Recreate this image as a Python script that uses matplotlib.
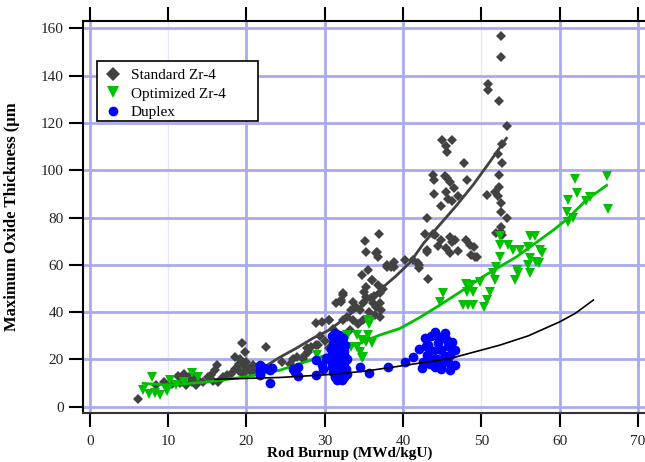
import matplotlib.pyplot as plt
from matplotlib.lines import Line2D
from matplotlib.patches import Rectangle

# Standard Zr-4 rods: burnup (MWd/kgU), max oxide thickness (um)
std_x = [6.1, 8.5, 9.5, 10.5, 11.2, 11.5, 12.0, 12.3, 12.7, 13.0, 13.4, 13.5, 14.0, 14.5,
         15.1, 15.5, 15.7, 16.2, 16.0, 16.4, 17.0, 17.5, 18.0, 18.5, 18.6, 19.0, 19.0, 19.2,
         19.4, 19.5, 19.8, 19.8, 20.0, 20.2, 20.5, 20.8, 21.0, 21.3, 22.5,
         24.5, 25.5, 26.0, 26.5, 27.2, 27.5, 27.7, 27.9, 28.3, 28.9, 29.2, 28.9, 29.6, 29.4,
         30.0, 30.6, 30.5, 31.0,
         31.5, 32.1, 32.3, 33.4, 32.8, 32.3, 33.6, 33.2, 34.3, 34.9, 34.5, 34.9, 35.3, 35.9,
         36.1, 36.6, 37.0, 37.2, 37.0, 36.4, 35.7, 35.3, 36.0, 35.5, 34.7, 36.8, 37.5, 37.9,
         38.9, 37.0, 35.2, 36.9, 35.3, 36.7, 36.6, 36.8, 37.9, 38.5, 36.0, 32.3, 33.6, 32.1,
         30.6, 35.0, 36.3, 34.0,
         38.9, 40.2, 41.3, 41.9, 42.1, 43.2, 42.1, 43.0, 43.0, 42.8, 43.8, 44.1, 44.9, 46.0,
         46.6, 48.1, 49.0, 48.7, 49.2, 44.4, 45.5, 46.3, 47.0, 46.0, 48.5, 49.4,
         43.0, 44.8, 44.0, 45.8, 45.5, 46.5, 47.0, 46.2, 43.8, 44.0, 45.6, 45.3, 46.0, 48.2,
         47.8, 45.0, 46.3, 45.5, 45.6, 50.7, 51.8, 52.3, 52.3, 52.6, 52.1, 52.5, 52.7,
         52.5, 52.1, 53.3, 52.5, 52.5, 51.9, 52.6, 53.3, 52.2, 50.9, 50.9, 52.5, 52.5]
std_y = [3.3, 9.0, 10.5, 9.5, 13.1, 10.0, 13.8, 9.0, 12.5, 10.5, 12.5, 9.0, 11.0, 10.5,
         12.7, 13.5, 11.0, 17.6, 15.5, 10.6, 12.5, 13.5, 14.0, 16.0, 21.0, 15.0, 18.0, 20.0,
         27.0, 14.0, 23.3, 17.0, 19.0, 16.0, 15.0, 17.5, 14.5, 16.0, 25.3,
         19.0, 18.0, 20.0, 21.0, 20.0, 21.9, 24.7, 23.3, 25.4, 26.1, 26.0, 35.5, 36.0, 30.0,
         28.0, 36.7, 25.0, 33.0,
         43.7, 44.4, 47.2, 40.9, 38.0, 36.6, 36.6, 32.4, 35.2, 36.6, 40.9, 43.7, 46.5, 45.8,
         43.7, 42.3, 43.7, 40.9, 38.0, 38.7, 40.2, 50.7, 53.6, 57.8, 55.7, 51.4, 50.0, 59.2,
         59.2, 48.0, 70.2, 72.9, 65.3, 65.3, 64.9, 63.4, 59.9, 59.2, 53.6, 47.9, 44.4, 45.0,
         36.7, 48.5, 47.0, 42.0,
         61.0, 62.0, 62.0, 60.6, 58.5, 53.9, 59.9, 65.5, 66.2, 73.0, 73.0, 72.6, 70.5, 71.9,
         70.5, 70.5, 67.7, 64.1, 63.4, 68.0, 67.0, 69.5, 66.0, 65.0, 68.5, 63.4,
         80.0, 85.0, 89.8, 88.0, 91.0, 92.5, 89.0, 87.0, 98.0, 95.9, 96.6, 97.5, 95.0, 95.9,
         102.9, 112.8, 112.8, 110.4, 107.8, 89.5, 90.6, 93.0, 98.0, 103.0, 107.0, 86.3, 111.0,
         82.3, 89.0, 80.0, 76.0, 74.0, 73.3, 72.6, 118.8, 129.3, 136.4, 133.9, 148.0, 156.9]

# Optimized Zr-4 rods
opt_x = [6.8, 7.5, 8.0, 8.3, 8.9, 9.8, 10.2, 11.0, 13.0, 13.8, 12.0, 29.0,
         35.5, 35.7, 34.1, 34.7, 32.8, 33.4, 34.5, 34.9, 36.0, 35.5, 32.6, 34.1, 35.8,
         35.3, 34.7,
         44.7, 45.1, 47.7, 48.3, 48.9, 48.1, 48.7, 48.2, 48.9, 49.8, 51.1, 50.7, 50.4,
         51.9, 51.5, 51.7, 52.4, 52.4, 53.4, 54.1, 52.4, 54.9, 56.0, 56.2, 56.8, 57.5, 57.7,
         56.2, 57.0, 57.3, 56.0, 56.2, 54.5, 54.7, 54.3,
         60.9, 61.1, 61.7, 61.1, 62.2, 61.9, 63.4, 63.9, 66.0, 66.2]
opt_y = [7.3, 5.5, 12.7, 6.0, 5.0, 6.6, 11.3, 9.2, 14.1, 12.7, 10.5, 21.9,
         36.6, 35.2, 30.3, 28.2, 30.3, 25.4, 23.3, 21.1, 26.8, 30.3, 28.2, 25.4, 36.0,
         27.5, 20.5,
         44.4, 47.9, 43.0, 43.0, 43.0, 52.1, 51.5, 48.6, 48.6, 52.9, 48.6, 45.1, 42.3,
         59.2, 56.4, 53.6, 72.2, 68.4, 68.4, 66.2, 63.4, 66.2, 67.7, 72.2, 72.2, 66.2, 64.9,
         62.7, 61.3, 60.6, 59.9, 56.4, 57.8, 56.4, 53.6,
         82.5, 78.2, 79.7, 87.4, 90.2, 96.2, 87.0, 88.5, 97.6, 83.4]

# Duplex rods
dup_x = [21.7, 21.7, 21.7, 22.2, 23.0, 23.2, 23.0, 26.0, 26.6, 26.6, 26.2, 28.9, 29.6,
         28.9, 29.8, 30.2,
         30.9, 31.3, 31.8, 32.3, 31.0, 31.5, 32.0, 32.6, 30.8, 31.3, 31.9, 32.5, 30.9, 31.4,
         32.0, 32.6, 30.8, 31.2, 31.8, 32.4, 32.8, 30.9, 31.5, 32.1, 32.7, 31.0, 31.6, 32.2,
         32.8, 31.3, 31.9, 32.5, 31.6, 32.2,
         34.5, 35.7, 38.1, 40.2,
         41.3, 42.0, 42.4, 42.8, 42.5, 43.0, 43.2, 43.5, 43.6, 43.8, 44.1, 44.1, 44.3, 44.5,
         44.8, 45.0, 45.3, 45.3, 45.5, 45.8, 46.0, 46.0, 46.2, 46.6, 46.6, 44.6, 43.3, 45.7,
         42.9, 44.9]
dup_y = [17.6, 15.5, 13.4, 16.5, 15.5, 16.5, 9.9, 15.8, 16.9, 13.0, 14.5, 19.7, 17.6,
         13.4, 16.0, 20.5,
         30.0, 31.0, 30.5, 29.0, 27.0, 28.0, 27.0, 26.0, 24.5, 25.0, 24.0, 23.5, 22.0, 21.5,
         22.0, 21.0, 19.5, 19.0, 19.5, 18.5, 20.0, 17.0, 16.5, 17.0, 16.0, 14.5, 14.0, 15.0,
         14.0, 12.5, 12.0, 12.5, 11.5, 11.5,
         16.9, 14.4, 16.9, 19.0,
         21.0, 24.5, 16.2, 28.9, 19.0, 22.0, 26.0, 18.0, 30.0, 23.5, 31.7, 16.9, 20.0, 27.0,
         24.0, 18.0, 31.0, 21.5, 28.5, 25.5, 15.5, 22.0, 27.5, 24.0, 17.6, 29.5, 20.5, 19.0,
         25.5, 15.8]

# fitted trend curves
std_fit_x = [22.6, 24.3, 26.5, 28.5, 30.6, 32.8, 35.0, 37.0, 39.0, 40.9, 42.6, 44.7,
             46.8, 49.0, 51.1, 53.2]
std_fit_y = [17.5, 21.0, 25.0, 29.0, 32.5, 38.0, 43.5, 49.3, 55.0, 61.0, 69.0, 77.0,
             85.0, 94.0, 103.6, 113.5]
opt_fit_x = [6.8, 10.0, 15.0, 20.0, 24.3, 28.5, 32.8, 37.0, 39.6, 42.0, 44.7, 47.5,
             50.2, 54.5, 59.2, 61.0, 63.4, 66.0]
opt_fit_y = [9.9, 9.2, 10.5, 12.7, 15.5, 20.0, 24.7, 30.3, 33.1, 37.5, 43.0, 49.0,
             55.0, 63.4, 74.7, 79.5, 87.4, 93.6]
dup_fit_x = [16.0, 24.3, 30.0, 35.0, 39.6, 46.0, 52.4, 56.0, 60.0, 62.0, 64.3]
dup_fit_y = [11.6, 12.4, 13.5, 15.0, 17.2, 20.4, 26.1, 30.0, 35.9, 39.5, 45.1]

plt.rcParams['font.family'] = ['Liberation Serif', 'DejaVu Serif']

fig = plt.figure(figsize=(6.45, 4.62), dpi=100)
ax = fig.add_axes([0.128, 0.1067, 0.872, 0.848])

grid_c = '#aaaaee'
for gx in [0, 20, 30, 40, 60, 70]:
    ax.axvline(gx, color=grid_c, lw=2, zorder=0)
for gx in [10, 50]:
    ax.axvline(gx, color='#e6e6f8', lw=1, zorder=0)
for gy in range(0, 161, 20):
    ax.axhline(gy, color=grid_c, lw=2, zorder=0)

gray = '#424242'
green = '#00c000'
blue = '#0000ff'

ax.plot(std_x, std_y, 'D', color=gray, ms=5, mew=0, zorder=2)
ax.plot(std_fit_x, std_fit_y, '-', color=gray, lw=2, zorder=3)
ax.plot(opt_x, opt_y, 'v', color=green, ms=7, mew=0, zorder=4)
ax.plot(opt_fit_x, opt_fit_y, '-', color=green, lw=2, zorder=5)
ax.plot(dup_x, dup_y, 'o', color=blue, ms=7, mew=0, zorder=6)
ax.plot(dup_fit_x, dup_fit_y, '-', color='black', lw=1.2, zorder=7)

ax.set_xlim(-0.93, 70.9)
ax.set_ylim(-2.5, 163.1)
ax.set_xticks(range(0, 71, 10))
ax.set_yticks(range(0, 161, 20))
ax.spines['right'].set_visible(False)
for s in ['left', 'top', 'bottom']:
    ax.spines[s].set_linewidth(1.5)
ax.spines['bottom'].set_color('#333333')
ax.tick_params(axis='both', direction='out', length=10, width=1.5,
               labelsize=11, labelcolor='#222222', top=True, right=False)
ax.tick_params(axis='x', pad=6)

ax.set_xlabel('Rod Burnup (MWd/kgU)', fontsize=11, fontweight='bold')
ax.xaxis.set_label_coords(0.475, -0.087)
ax.set_ylabel('Maximum Oxide Thickness (\u00b5m', fontsize=12, fontweight='bold')
ax.yaxis.set_label_coords(-0.112, 0.5)

# legend box drawn separately so its padding can be set freely
ax.add_patch(Rectangle((0.0254, 0.7447), 0.2864, 0.1532, transform=ax.transAxes,
                       facecolor='white', edgecolor='black', lw=1.2, zorder=9))
handles = [
    Line2D([], [], marker='D', color=gray, ls='none', ms=7, mew=0),
    Line2D([], [], marker='v', color=green, ls='none', ms=9, mew=0),
    Line2D([], [], marker='o', color=blue, ls='none', ms=7, mew=0),
]
leg = ax.legend(handles, ['Standard Zr-4', 'Optimized Zr-4', 'Duplex'],
                loc='upper left', bbox_to_anchor=(0.037, 0.878), borderaxespad=0,
                fontsize=11, frameon=False, handletextpad=0.6, labelspacing=0.3,
                borderpad=0.0, handlelength=1.2)
leg.set_zorder(10)

plt.savefig('out.png', dpi=100)
